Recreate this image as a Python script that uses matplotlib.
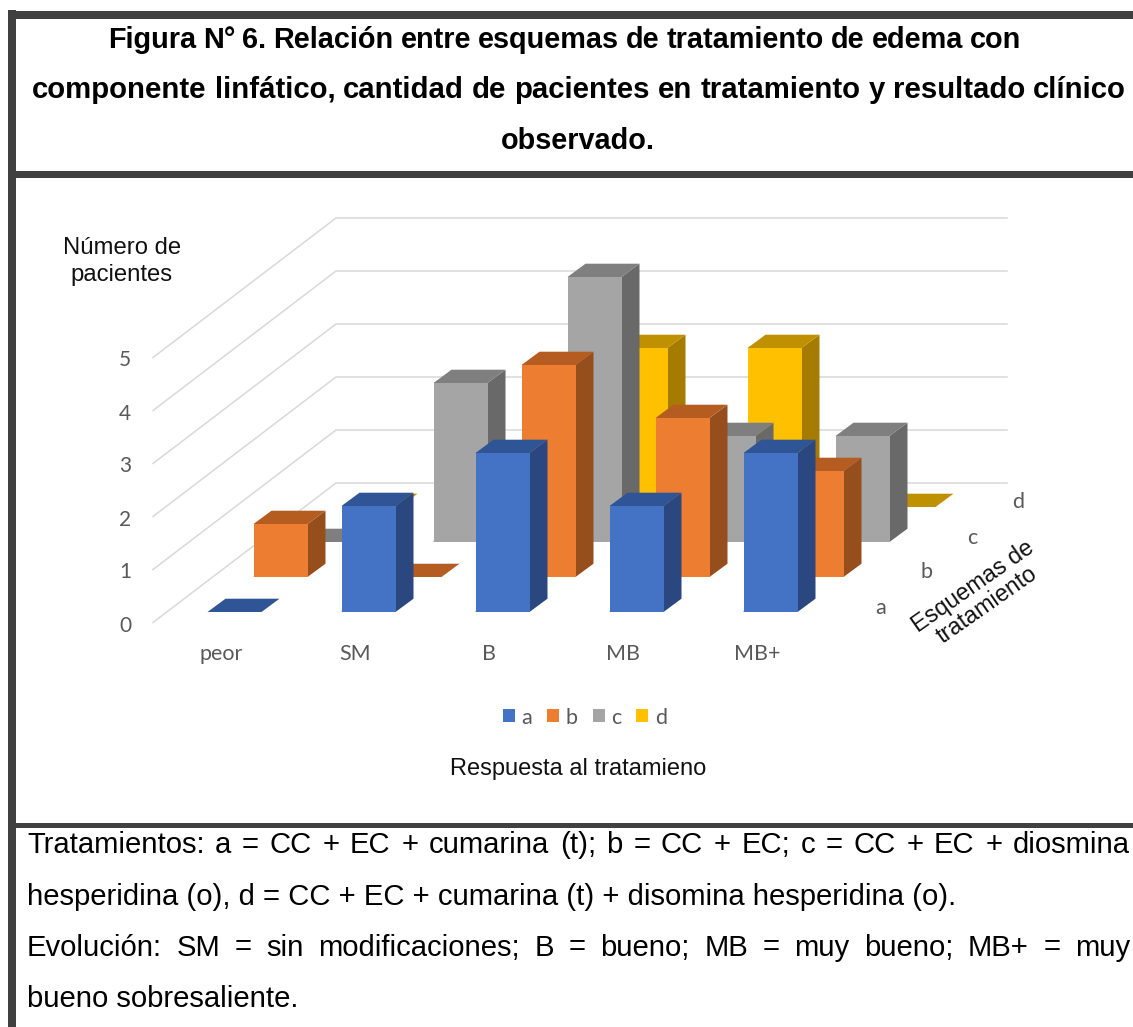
import matplotlib
matplotlib.use("Agg")
import matplotlib.pyplot as plt
from matplotlib.patches import Polygon, Patch, Rectangle

categories = ["peor", "SM", "B", "MB", "MB+"]
series_names = ["a", "b", "c", "d"]
values_a = [0, 2, 3, 2, 3]
values_b = [1, 0, 4, 3, 2]
values_c = [0, 3, 5, 2, 2]
values_d = [0, 0, 3, 3, 0]
value_ticks = [0, 1, 2, 3, 4, 5]
face_colors = ["#4472C4", "#ED7D31", "#A5A5A5", "#FFC000"]
top_colors = ["#2F5597", "#B55D21", "#7F7F7F", "#BF9000"]
side_colors = ["#2A4780", "#964F1C", "#696969", "#A67C00"]

title_lines = ["Figura N° 6. Relación entre esquemas de tratamiento de edema con",
               "componente linfático, cantidad de pacientes en tratamiento y resultado clínico",
               "observado."]
note_lines = [("Tratamientos: a = CC + EC + cumarina (t); b = CC + EC; c = CC + EC + diosmina", True),
              ("hesperidina (o), d = CC + EC + cumarina (t) + disomina hesperidina (o).", False),
              ("Evolución: SM = sin modificaciones; B = bueno; MB = muy bueno; MB+ = muy", True),
              ("bueno sobresaliente.", False)]

# oblique projection of the 3D chart
X0, Y0 = 207.5, 612.0      # front-left foot of series a, category 0
CAT_STEP = 134.0
SER_DX, SER_DY = 46.0, -35.0
UNIT = 53.0
BAR_W, DEPTH_X, DEPTH_Y = 54.0, 18.0, -13.3
WALL_X0, WALL_Y0, WALL_X1, WALL_Y1, WALL_END = 153.0, 622.5, 336.0, 483.0, 1007.0

fig = plt.figure(figsize=(11.33, 10.27), dpi=100)
ax = fig.add_axes([0, 0, 1, 1])
ax.set_xlim(0, 1133)
ax.set_ylim(1027, 0)
ax.axis("off")

ARIAL = "Liberation Sans"
LABEL = "Lato"
FRAME = "#404040"
renderer = fig.canvas.get_renderer()


def width(s, size, weight):
    t = ax.text(0, 0, s, family=ARIAL, fontsize=size, weight=weight)
    w = t.get_window_extent(renderer).width
    t.remove()
    return w


def justified(line, x0, x1, y, size, weight="normal"):
    words = line.split(" ")
    widths = [width(w, size, weight) for w in words]
    gap = (x1 - x0 - sum(widths)) / (len(words) - 1)
    x = x0
    for w, wd in zip(words, widths):
        ax.text(x, y, w, family=ARIAL, fontsize=size, weight=weight, color="black", ha="left", va="center_baseline")
        x += wd + gap


# frame
for rect in [(8, 10, 8, 1017), (8, 11, 1125, 7.5), (8, 171, 1125, 7), (8, 823, 1125, 5)]:
    ax.add_patch(Rectangle((rect[0], rect[1]), rect[2], rect[3], fc=FRAME, ec="none", zorder=5))

justified(title_lines[0], 108, 1021, 37, 20.8, "bold")
justified(title_lines[1], 32, 1126, 87, 21.2, "bold")
ax.text(578, 138, title_lines[2], family=ARIAL, weight="bold", fontsize=20.8, color="black",
        ha="center", va="center_baseline")

# walls
for v in value_ticks:
    yf = WALL_Y0 - v * UNIT
    yb = WALL_Y1 - v * UNIT
    ax.plot([WALL_X0, WALL_X1, WALL_END], [yf, yb, yb], color="#D9D9D9", lw=1.1, zorder=1)
    ax.text(125, yf + 3, str(v), family=LABEL, fontsize=15, color="#595959", ha="center", va="center")

# bars, back to front
all_values = [values_a, values_b, values_c, values_d]
z = 2
for s in [3, 2, 1, 0]:
    for c, v in enumerate(all_values[s]):
        x = X0 + c * CAT_STEP + s * SER_DX
        y = Y0 + s * SER_DY
        top = y - v * UNIT
        ax.add_patch(Polygon([(x, y), (x + BAR_W, y), (x + BAR_W + DEPTH_X, y + DEPTH_Y),
                              (x + BAR_W + DEPTH_X, top + DEPTH_Y), (x + BAR_W, top)],
                             fc=side_colors[s], ec="none", zorder=z))
        ax.add_patch(Polygon([(x, top), (x + BAR_W, top), (x + BAR_W + DEPTH_X, top + DEPTH_Y),
                              (x + DEPTH_X, top + DEPTH_Y)], fc=top_colors[s], ec="none", zorder=z))
        if v > 0:
            ax.add_patch(Rectangle((x, top), BAR_W, v * UNIT, fc=face_colors[s], ec="none", zorder=z))
        z += 1

for c, name in enumerate(categories):
    ax.text(X0 + 13.5 + c * CAT_STEP, 654, name, family=LABEL, fontsize=15.5, color="#595959", ha="center", va="center")
for s, name in enumerate(series_names):
    ax.text(881 + s * 45.8, 607.5 + s * SER_DY, name, family=LABEL, fontsize=15.5, color="#595959", ha="center", va="center")

ax.text(122, 261.5, "Número de\npacientes", family=ARIAL, fontsize=17.2, ha="center", va="center", linespacing=1.35, color="#111111")
ax.text(578, 769, "Respuesta al tratamieno", family=ARIAL, fontsize=17, ha="center", va="center", color="#111111")
ax.text(980, 596, "Esquemas de\ntratamiento", family=ARIAL, fontsize=16.8, ha="center", va="center",
        rotation=35, rotation_mode="anchor", linespacing=1.0, color="#111111", zorder=60)

handles = [Patch(fc=c, ec="none") for c in face_colors]
ax.legend(handles, series_names, ncol=4, loc="center", bbox_to_anchor=(585, 717.5), bbox_transform=ax.transData,
          frameon=False, handlelength=0.55, handleheight=0.55, handletextpad=0.3, columnspacing=0.7,
          prop={"family": LABEL, "size": 15.5}, labelcolor="#595959")

# notes, justified word by word
NOTE_SIZE = 21.1
for (line, just), y in zip(note_lines, [842, 894, 944.5, 996]):
    if just:
        justified(line, 27, 1130, y, NOTE_SIZE)
    else:
        ax.text(27, y, line, family=ARIAL, fontsize=NOTE_SIZE, color="black", ha="left", va="center_baseline")

fig.savefig("out.png", dpi=100)
